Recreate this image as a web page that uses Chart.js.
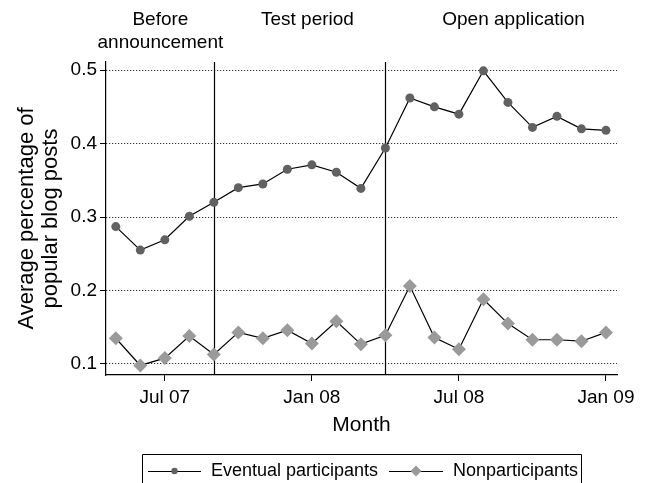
<!DOCTYPE html>
<html>
<head>
<meta charset="utf-8">
<script src="https://cdn.jsdelivr.net/npm/chart.js@4.4.1/dist/chart.umd.min.js"></script>
<style>
  html, body { margin: 0; padding: 0; background: #fff; }
  #wrap { width: 647px; height: 483px; }
</style>
</head>
<body>
<div id="wrap"><canvas id="chart" width="647" height="483"></canvas></div>
<script>
// months May 07 .. Jan 09, as index 0..20
const monthIndex = [0, 1, 2, 3, 4, 5, 6, 7, 8, 9, 10, 11, 12, 13, 14, 15, 16, 17, 18, 19, 20];
const participants = [0.287, 0.255, 0.269, 0.301, 0.320, 0.340, 0.345, 0.365, 0.371, 0.361, 0.339,
  0.394, 0.462, 0.450, 0.440, 0.499, 0.456, 0.422, 0.437, 0.420, 0.418];
const nonparticipants = [0.135, 0.098, 0.108, 0.138, 0.113, 0.143, 0.135, 0.146, 0.128, 0.158, 0.127,
  0.139, 0.206, 0.136, 0.120, 0.188, 0.155, 0.133, 0.133, 0.131, 0.143];
const seriesNames = ['Eventual participants', 'Nonparticipants'];

const xTickIndex = [2, 8, 14, 20];
const xTickLabels = ['Jul 07', 'Jan 08', 'Jul 08', 'Jan 09'];
const yTicks = [0.1, 0.2, 0.3, 0.4, 0.5];

const phaseBreaks = [4, 11];
const phaseLabels = [['Before', 'announcement'], ['Test period'], ['Open application']];
const phaseCenters = [1.82, 7.82, 16.23];

const FONT = "'Liberation Sans', Arial, Helvetica, sans-serif";
const DARK = '#616161';
const LIGHT = '#9a9a9a';

Chart.defaults.font.family = FONT;
Chart.defaults.color = '#000';

function toPoints(vals) {
  return monthIndex.map((m, i) => ({ x: m, y: vals[i] }));
}

// vertical phase lines (under the markers) + phase labels on top
const phaseLinesPlugin = {
  id: 'phaseLines',
  beforeDatasetsDraw(chart) {
    const { ctx, chartArea, scales: { x } } = chart;
    ctx.save();
    ctx.strokeStyle = '#000';
    ctx.lineWidth = 1.2;
    phaseBreaks.forEach((b) => {
      const px = Math.round(x.getPixelForValue(b)) + 0.5;
      ctx.beginPath();
      ctx.moveTo(px, chartArea.top);
      ctx.lineTo(px, chartArea.bottom);
      ctx.stroke();
    });
    ctx.restore();
  },
  afterDraw(chart) {
    const { ctx, scales: { x } } = chart;
    ctx.save();
    ctx.fillStyle = '#000';
    ctx.font = `19px ${FONT}`;
    ctx.textAlign = 'center';
    ctx.textBaseline = 'middle';
    phaseLabels.forEach((lines, i) => {
      const px = x.getPixelForValue(phaseCenters[i]);
      lines.forEach((t, j) => ctx.fillText(t, px, 20 + j * 23));
    });
    ctx.restore();
  },
};

// boxed legend at the bottom (bottom edge runs off the canvas)
const boxLegendPlugin = {
  id: 'boxLegend',
  afterDraw(chart) {
    const { ctx } = chart;
    const top = 454;
    const left = 142;
    const right = 581;
    const cy = 471;
    ctx.save();
    ctx.strokeStyle = '#000';
    ctx.lineWidth = 1;
    ctx.beginPath();
    ctx.moveTo(left + 0.5, 483);
    ctx.lineTo(left + 0.5, top + 0.5);
    ctx.lineTo(right + 0.5, top + 0.5);
    ctx.lineTo(right + 0.5, 483);
    ctx.stroke();

    ctx.font = `18px ${FONT}`;
    ctx.textBaseline = 'middle';
    ctx.textAlign = 'left';

    const items = [
      { x0: 148, x1: 201, text: seriesNames[0], style: 'circle', r: 3.2, color: DARK },
      { x0: 389, x1: 443, text: seriesNames[1], style: 'rectRot', r: 5.5, color: LIGHT },
    ];
    items.forEach((it) => {
      ctx.strokeStyle = '#000';
      ctx.lineWidth = 1.2;
      ctx.beginPath();
      ctx.moveTo(it.x0, cy + 0.5);
      ctx.lineTo(it.x1, cy + 0.5);
      ctx.stroke();
      ctx.fillStyle = it.color;
      ctx.strokeStyle = it.color;
      Chart.helpers.drawPoint(ctx, { pointStyle: it.style, radius: it.r, borderWidth: 0 }, (it.x0 + it.x1) / 2, cy);
      ctx.fillStyle = '#000';
      ctx.fillText(it.text, it.x1 + 10, cy);
    });
    ctx.restore();
  },
};

new Chart(document.getElementById('chart'), {
  type: 'line',
  data: {
    datasets: [
      {
        label: seriesNames[0],
        data: toPoints(participants),
        borderColor: '#000',
        borderWidth: 1.2,
        pointStyle: 'circle',
        pointRadius: 4.5,
        pointBackgroundColor: DARK,
        pointBorderColor: DARK,
        pointBorderWidth: 0,
        tension: 0,
      },
      {
        label: seriesNames[1],
        data: toPoints(nonparticipants),
        borderColor: '#000',
        borderWidth: 1.2,
        pointStyle: 'rectRot',
        pointRadius: 7,
        pointBackgroundColor: LIGHT,
        pointBorderColor: LIGHT,
        pointBorderWidth: 0,
        tension: 0,
      },
    ],
  },
  options: {
    responsive: false,
    animation: false,
    layout: { padding: { left: 0, right: 30, top: 62, bottom: 33 } },
    plugins: {
      legend: { display: false },
      tooltip: { enabled: false },
    },
    scales: {
      x: {
        type: 'linear',
        min: -0.4,
        max: 20.45,
        afterBuildTicks: (s) => { s.ticks = xTickIndex.map((v) => ({ value: v })); },
        afterFit: (s) => { s.height = 75; },
        ticks: {
          font: { size: 19 },
          color: '#000',
          padding: 5,
          maxRotation: 0,
          autoSkip: false,
          callback: (v) => xTickLabels[xTickIndex.indexOf(v)] ?? '',
        },
        grid: { drawOnChartArea: false, drawTicks: true, tickLength: 6, tickColor: '#000', tickWidth: 1 },
        border: { display: true, color: '#000', width: 1.2 },
        title: { display: true, text: 'Month', font: { size: 21 }, color: '#000', padding: { top: 0, bottom: 12 } },
      },
      y: {
        min: 0.085,
        max: 0.511,
        afterBuildTicks: (s) => { s.ticks = yTicks.map((v) => ({ value: v })); },
        afterFit: (s) => { s.width = 106; },
        ticks: {
          font: { size: 19 },
          color: '#000',
          padding: 3,
          callback: (v) => v.toFixed(1),
        },
        grid: {
          drawOnChartArea: true,
          color: '#000',
          lineWidth: 1,
          drawTicks: true,
          tickLength: 6,
          tickColor: '#000',
          tickWidth: 1,
          tickBorderDash: [],
        },
        border: { display: true, color: '#000', width: 1.2, dash: [1, 2] },
        title: {
          display: true,
          text: ['Average percentage of', 'popular blog posts'],
          font: { size: 22, lineHeight: 1.1 },
          color: '#000',
          padding: { top: 15, bottom: 0 },
        },
      },
    },
  },
  plugins: [phaseLinesPlugin, boxLegendPlugin],
});
</script>
</body>
</html>
